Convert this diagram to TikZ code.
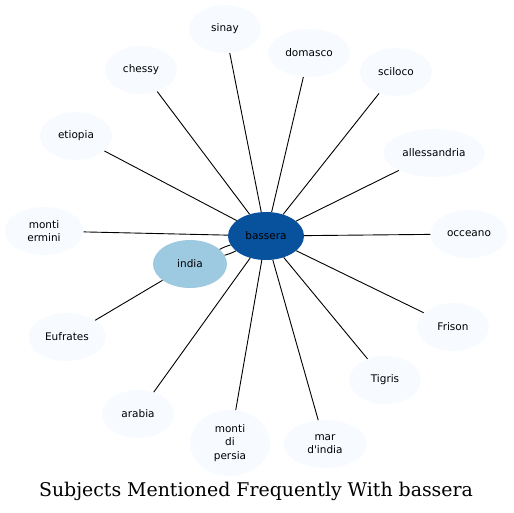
\documentclass[tikz,border=0pt]{standalone}
\usepackage{fontspec}
\newfontfamily\labelfont{DejaVu Sans}
\newfontfamily\titlefont{DejaVu Serif}
\usetikzlibrary{shapes.geometric}
\definecolor{hubblue}{HTML}{08519C}
\definecolor{nearblue}{HTML}{9ECAE1}
\definecolor{leafblue}{HTML}{F7FBFF}

\begin{document}
\begin{tikzpicture}[x=1pt,y=-1pt,
    subject/.style={ellipse,fill=leafblue,inner sep=0pt,minimum width=72pt,minimum height=48pt,
      align=center,font=\labelfont\fontsize{10.5}{13.5}\selectfont},
    link/.style={black,line width=0.9pt}]
  \useasboundingbox (0,0) rectangle (514,512);
  % centre and the close neighbour
  \node[subject,fill=hubblue,minimum width=76pt] (bassera) at (266,236) {bassera};
  \node[subject,fill=nearblue,minimum width=74pt] (india) at (190,264) {india};
  % the other subjects round it
  \node[subject] (sinay) at (225,29) {sinay};
  \node[subject,minimum width=82pt] (domasco) at (309,53) {domasco};
  \node[subject] (chessy) at (141,70) {chessy};
  \node[subject] (sciloco) at (396,72) {sciloco};
  \node[subject] (etiopia) at (76,136) {etiopia};
  \node[subject,minimum width=101pt] (allessandria) at (434,153) {allessandria};
  \node[subject,minimum width=79pt] (montiermini) at (44,231) {monti\\ermini};
  \node[subject,minimum width=77pt] (occeano) at (469,234) {occeano};
  \node[subject,minimum width=77pt] (eufrates) at (67,337) {Eufrates};
  \node[subject] (frison) at (453,327) {Frison};
  \node[subject] (tigris) at (385,380) {Tigris};
  \node[subject] (arabia) at (138,414) {arabia};
  \node[subject,minimum width=80pt,minimum height=66pt] (montipersia) at (230,443) {monti\\di\\persia};
  \node[subject,minimum width=83pt] (marindia) at (325,444) {mar\\d'india};
  % links
  \foreach \n in {sinay,domasco,chessy,sciloco,etiopia,allessandria,montiermini,occeano,frison,tigris,arabia,montipersia,marindia}
    \draw[link] (bassera) -- (\n);
  \draw[link] (india) to[bend left=6] (bassera);
  \draw[link] (india) to[bend right=6] (bassera);
  \draw[link] (india) -- (eufrates);
  % title
  \node[font=\titlefont\fontsize{18.9}{22}\selectfont] (title) at (256,491) {Subjects Mentioned Frequently With bassera};
\end{tikzpicture}
\end{document}
